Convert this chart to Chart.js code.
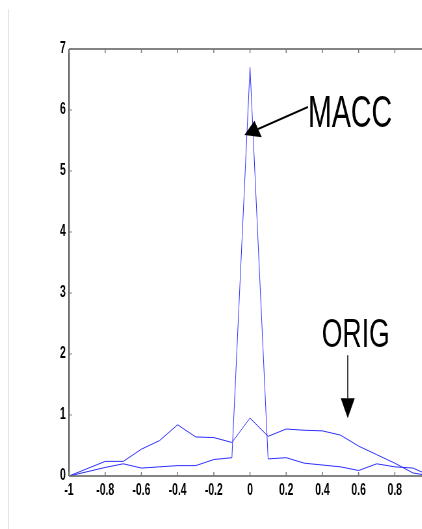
<!DOCTYPE html>
<html><head><meta charset="utf-8">
<script src="https://cdn.jsdelivr.net/npm/chart.js@4"></script>
<style>
html,body{margin:0;padding:0;background:#fff;overflow:hidden;width:422px;height:529px;}
#wrap{position:absolute;left:0;top:0;width:422px;height:529px;overflow:hidden;background:#fff;}
#c{position:absolute;left:0;top:0;transform:scaleX(0.65);transform-origin:0 0;}
#edge{position:absolute;left:8px;top:9px;bottom:0;width:1px;background:#e6e6e6;}
</style></head><body>
<div id="wrap"><div id="edge"></div><canvas id="c" width="680" height="529"></canvas></div>
<script>
const SX = 0.65;
const xValues    = [-1,-0.9,-0.8,-0.7,-0.6,-0.5,-0.4,-0.3,-0.2,-0.1,0,0.1,0.2,0.3,0.4,0.5,0.6,0.7,0.8,0.9,1];
const origValues = [0,0.12,0.24,0.24,0.44,0.58,0.84,0.64,0.63,0.55,0.95,0.65,0.77,0.75,0.74,0.67,0.49,0.35,0.21,0.05,0];
const maccValues = [0,0.07,0.14,0.20,0.13,0.15,0.17,0.17,0.27,0.30,6.7,0.28,0.30,0.21,0.18,0.15,0.09,0.20,0.15,0.13,0];
const xTicks = [-1,-0.8,-0.6,-0.4,-0.2,0,0.2,0.4,0.6,0.8,1];
const yTicks = [0,1,2,3,4,5,6,7];
const annotations = [
  {text:'MACC', x:0.320, y:5.72, size:44, from:[0.320,6.05], to:[-0.031,5.59], headLen:15, headHalf:9, lw:2},
  {text:'ORIG', x:0.396, y:2.12, size:41, from:[0.540,1.98], to:[0.540,0.946], headLen:20, headHalf:7, lw:1.5}
];

const pts = vals => xValues.map((x,i)=>({x:x,y:vals[i]}));
const FONT = '"Liberation Sans", Arial, sans-serif';

const decor = {
  id:'decor',
  afterDatasetsDraw(chart){
    const ctx = chart.ctx, a = chart.chartArea;
    const xs = chart.scales.x, ys = chart.scales.y;
    ctx.save();
    // box
    ctx.strokeStyle = '#5c5c5c';
    ctx.lineWidth = 1.5;
    ctx.beginPath();
    ctx.moveTo(a.left, a.top); ctx.lineTo(a.right, a.top);
    ctx.moveTo(a.left, a.bottom); ctx.lineTo(a.right, a.bottom);
    ctx.stroke();
    ctx.lineWidth = 1.5/SX;
    ctx.beginPath();
    ctx.moveTo(a.left, a.top); ctx.lineTo(a.left, a.bottom);
    ctx.moveTo(a.right, a.top); ctx.lineTo(a.right, a.bottom);
    ctx.stroke();
    // inward ticks
    ctx.strokeStyle = '#7a7a7a';
    ctx.lineWidth = 1/SX;
    ctx.beginPath();
    xTicks.forEach(v=>{
      const px = xs.getPixelForValue(v);
      ctx.moveTo(px, a.bottom); ctx.lineTo(px, a.bottom-4);
      ctx.moveTo(px, a.top); ctx.lineTo(px, a.top+4);
    });
    ctx.stroke();
    ctx.lineWidth = 1;
    ctx.beginPath();
    yTicks.forEach(v=>{
      const py = ys.getPixelForValue(v);
      ctx.moveTo(a.left, py); ctx.lineTo(a.left+3/SX, py);
    });
    ctx.stroke();
    // annotations
    annotations.forEach(an=>{
      ctx.fillStyle = '#000';
      ctx.font = an.size + 'px ' + FONT;
      ctx.textBaseline = 'alphabetic';
      ctx.textAlign = 'left';
      ctx.fillText(an.text, xs.getPixelForValue(an.x), ys.getPixelForValue(an.y));
      // arrow in screen space
      const fx = xs.getPixelForValue(an.from[0])*SX, fy = ys.getPixelForValue(an.from[1]);
      const tx = xs.getPixelForValue(an.to[0])*SX, ty = ys.getPixelForValue(an.to[1]);
      const dx = fx-tx, dy = fy-ty, L = Math.hypot(dx,dy);
      const ux = dx/L, uy = dy/L, nx = -uy, ny = ux;
      const bx = tx+ux*an.headLen, by = ty+uy*an.headLen;
      ctx.strokeStyle = '#000';
      ctx.lineWidth = an.lw;
      ctx.beginPath();
      ctx.moveTo(fx/SX, fy); ctx.lineTo(bx/SX, by);
      ctx.stroke();
      ctx.beginPath();
      ctx.moveTo(tx/SX, ty);
      ctx.lineTo((bx+nx*an.headHalf)/SX, by+ny*an.headHalf);
      ctx.lineTo((bx-nx*an.headHalf)/SX, by-ny*an.headHalf);
      ctx.closePath();
      ctx.fill();
    });
    ctx.restore();
  }
};

new Chart(document.getElementById('c'), {
  type:'line',
  data:{datasets:[
    {label:'ORIG', data:pts(origValues), borderColor:'rgb(45,45,255)', borderWidth:1, pointRadius:0, tension:0, fill:false},
    {label:'MACC', data:pts(maccValues), borderColor:'rgb(45,45,255)', borderWidth:1, pointRadius:0, tension:0, fill:false}
  ]},
  options:{
    responsive:false, animation:false, events:[],
    layout:{padding:{top:49, right:680-431/SX, left:0, bottom:0}},
    plugins:{legend:{display:false}, tooltip:{enabled:false}},
    scales:{
      x:{type:'linear', min:-1, max:1,
         afterBuildTicks:s=>{s.ticks = xTicks.map(v=>({value:v}));},
         afterFit:s=>{s.height = 53;},
         grid:{display:false, drawTicks:false}, border:{display:false},
         ticks:{padding:5, color:'#000', maxRotation:0, autoSkip:false,
                font:{family:FONT, size:16, weight:'bold'},
                callback:v=> v===0?'0':(Number.isInteger(v)?String(v):v.toFixed(1))}},
      y:{type:'linear', min:0, max:7,
         afterBuildTicks:s=>{s.ticks = yTicks.map(v=>({value:v}));},
         afterFit:s=>{s.width = 69/SX;},
         grid:{display:false, drawTicks:false}, border:{display:false},
         ticks:{padding:5, color:'#000', font:{family:FONT, size:16, weight:'bold'},
                callback:v=>String(v)}}
    }
  },
  plugins:[decor]
});
</script>
</body></html>
